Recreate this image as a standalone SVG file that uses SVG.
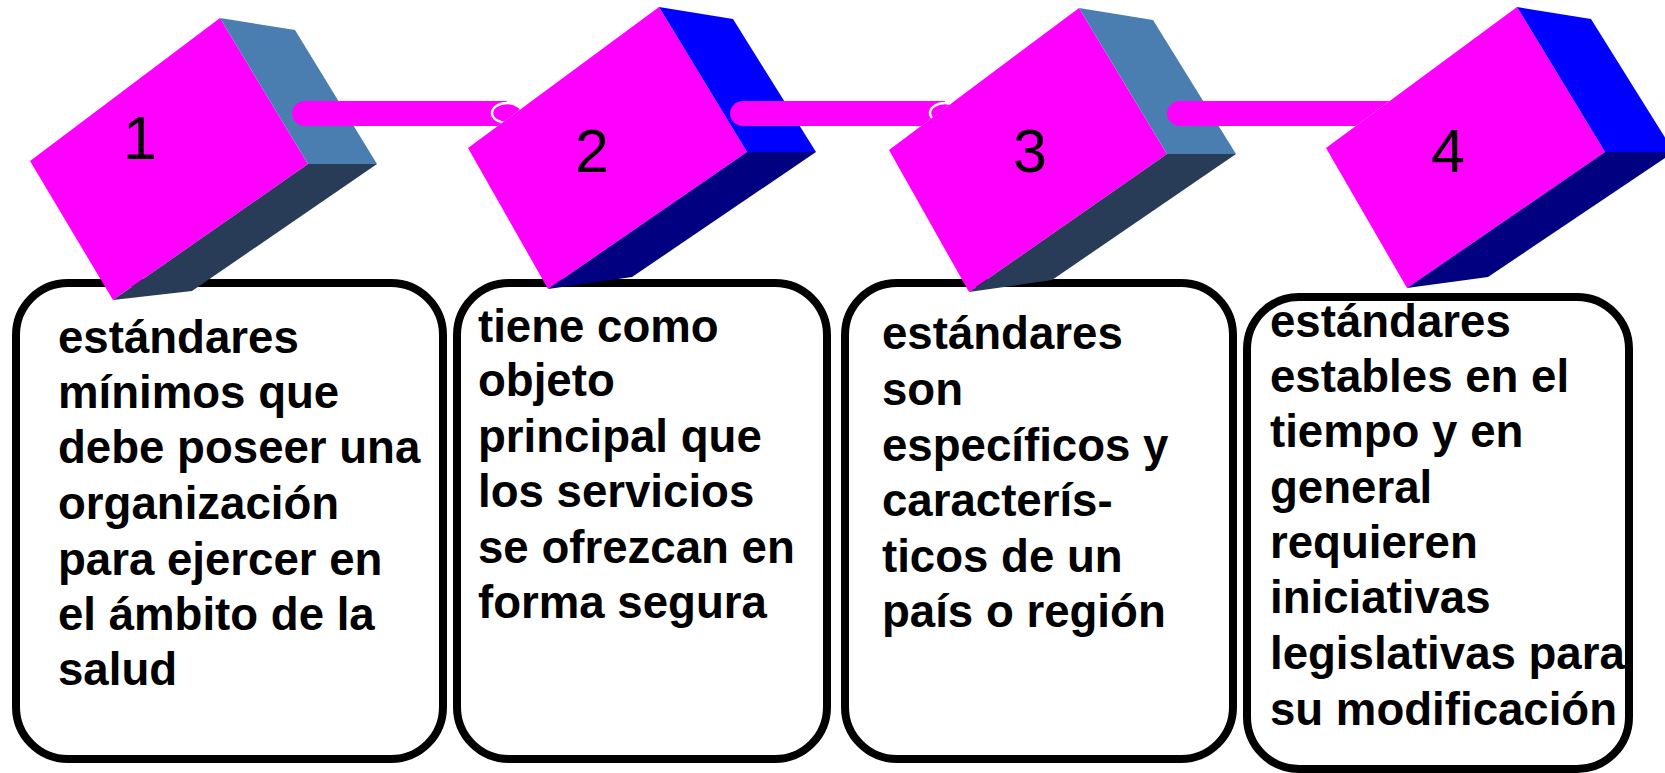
<svg xmlns="http://www.w3.org/2000/svg" width="1665" height="773" viewBox="0 0 1665 773">
<style>
.box{fill:#ffffff;stroke:#000000;stroke-width:8}
.front{fill:#ff00ff}
.sideA{fill:#4a7db0}
.botA{fill:#283c58}
.sideB{fill:#0000ff}
.botB{fill:#000080}
.num{font-family:"Liberation Sans",Arial,sans-serif;font-size:61px;fill:#000000;text-anchor:middle}
.txt{font-family:"Liberation Sans",Arial,sans-serif;font-size:45.6px;font-weight:bold;fill:#000000}
.bar{fill:#ff00ff}
.cap{fill:#ff00ff;stroke:#ffffff;stroke-width:2.5}
</style>
<defs>
<clipPath id="clip1"><polygon points="280,60 587,60 452,160 280,160"/></clipPath>
<clipPath id="clip2"><polygon points="700,60 1009,60 876,160 700,160"/></clipPath>
<clipPath id="clip3"><polygon points="1150,60 1445,60 1310,160 1150,160"/></clipPath>
</defs>
<rect width="1665" height="773" fill="#ffffff"/>

<g id="box1">
<rect class="box" x="16" y="283" width="427" height="476" rx="52"/>
<text class="txt"><tspan x="58" y="353">estándares</tspan><tspan x="58" y="408">mínimos que</tspan><tspan x="58" y="463">debe poseer una</tspan><tspan x="58" y="519">organización</tspan><tspan x="58" y="575">para ejercer en</tspan><tspan x="58" y="630">el ámbito de la</tspan><tspan x="58" y="685">salud</tspan></text>
</g>
<g id="box2">
<rect class="box" x="457" y="283" width="370" height="476" rx="52"/>
<text class="txt"><tspan x="478" y="342">tiene como</tspan><tspan x="478" y="396">objeto</tspan><tspan x="478" y="452">principal que</tspan><tspan x="478" y="507">los servicios</tspan><tspan x="478" y="563">se ofrezcan en</tspan><tspan x="478" y="618">forma segura</tspan></text>
</g>
<g id="box3">
<rect class="box" x="845" y="283" width="388" height="476" rx="52"/>
<text class="txt"><tspan x="882" y="349">estándares</tspan><tspan x="882" y="405">son</tspan><tspan x="882" y="461">específicos y</tspan><tspan x="882" y="516">caracterís-</tspan><tspan x="882" y="572">ticos de un</tspan><tspan x="882" y="627">país o región</tspan></text>
</g>
<g id="box4">
<rect class="box" x="1247" y="297" width="382" height="472" rx="52"/>
<text class="txt"><tspan x="1270" y="337">estándares</tspan><tspan x="1270" y="392">estables en el</tspan><tspan x="1270" y="447">tiempo y en</tspan><tspan x="1270" y="503">general</tspan><tspan x="1270" y="558">requieren</tspan><tspan x="1270" y="613">iniciativas</tspan><tspan x="1270" y="669">legislativas para</tspan><tspan x="1270" y="725">su modificación</tspan></text>
</g>

<g id="cube1">
<polygon class="front" points="30,161 220,18 308,164 113,300"/>
<polygon class="sideA" points="220,18 295,30 377,164 308,164"/>
<polygon class="botA" points="308,164 377,164 192,291 113,300"/>
<text class="num" x="140" y="159">1</text>
</g>
<g id="cube2">
<polygon class="front" points="468,148 659,7 747,152 548,289"/>
<polygon class="sideB" points="659,7 733,19 816,152 747,152"/>
<polygon class="botB" points="747,152 816,152 632,277 548,289"/>
<text class="num" x="592" y="172">2</text>
</g>
<g id="cube3">
<polygon class="front" points="889,150 1079,8 1167,154 969,292"/>
<polygon class="sideA" points="1079,8 1153,20 1236,154 1167,154"/>
<polygon class="botA" points="1167,154 1236,154 1052,280 969,292"/>
<text class="num" x="1030" y="172">3</text>
</g>
<g id="cube4">
<polygon class="front" points="1326,148 1517,7 1605,152 1407,288"/>
<polygon class="sideB" points="1517,7 1591,19 1674,152 1605,152"/>
<polygon class="botB" points="1605,152 1674,152 1488,277 1407,288"/>
<text class="num" x="1448" y="172">4</text>
</g>

<g id="connectors">
<g clip-path="url(#clip1)">
<path class="bar" d="M305,101 H507 V126 H305 A13,12.5 0 0 1 305,101 Z"/>
<ellipse class="cap" cx="507" cy="113" rx="15" ry="10"/>
</g>
<g clip-path="url(#clip2)">
<path class="bar" d="M743,101 H945 V126 H743 A13,12.5 0 0 1 743,101 Z"/>
<ellipse class="cap" cx="945" cy="113" rx="15" ry="10"/>
</g>
<g clip-path="url(#clip3)">
<path class="bar" d="M1180,101 H1420 V126 H1180 A13,12.5 0 0 1 1180,101 Z"/>
</g>
</g>
</svg>
